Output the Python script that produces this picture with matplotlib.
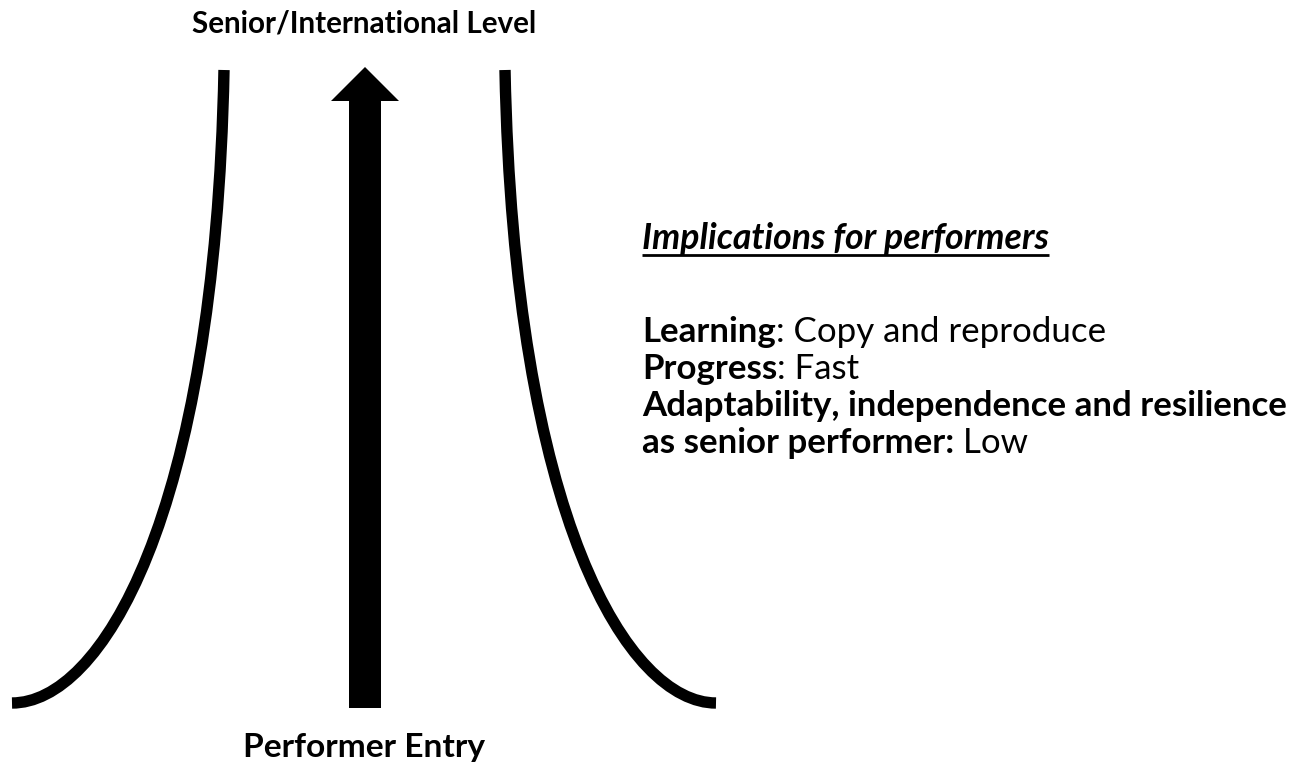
#!/usr/bin/env python3
"""Performer pathway diagram: narrow funnel with a straight arrow up the middle."""

import matplotlib
matplotlib.use("Agg")
import matplotlib.pyplot as plt
from matplotlib.path import Path
from matplotlib.patches import PathPatch, FancyArrow

FONT = ["Lato", "DejaVu Sans"]

# bezier control points of the two funnel walls (pixel space, y down)
LEFT_X = [224, 215, 100, 12]
LEFT_Y = [70, 520, 703, 703]
RIGHT_X = [505, 514, 629, 716]
RIGHT_Y = [70, 520, 703, 703]

# central arrow: x, bottom, top
ARROW_X = 365
ARROW_BOTTOM = 708
ARROW_TOP = 67

TOP_LABEL = "Senior/International Level"
BOTTOM_LABEL = "Performer Entry"
HEADING = "Implications for performers"
LINES = [
    ("Learning", ": Copy and reproduce"),
    ("Progress", ": Fast"),
    ("Adaptability, independence and resilience", ""),
    ("as senior performer:", " Low"),
]


def fit_width(fig, txt, target_px):
    renderer = fig.canvas.get_renderer()
    for _ in range(4):
        w = txt.get_window_extent(renderer).width
        txt.set_fontsize(txt.get_fontsize() * target_px / w)


def main():
    fig = plt.figure(figsize=(13.06, 7.68), dpi=100)
    ax = fig.add_axes([0, 0, 1, 1])
    ax.set_xlim(0, 1306)
    ax.set_ylim(768, 0)
    ax.axis("off")

    codes = [Path.MOVETO, Path.CURVE4, Path.CURVE4, Path.CURVE4]
    for xs, ys in ((LEFT_X, LEFT_Y), (RIGHT_X, RIGHT_Y)):
        path = Path(list(zip(xs, ys)), codes)
        ax.add_patch(PathPatch(path, facecolor="none", edgecolor="black",
                               lw=8.2, capstyle="butt"))

    ax.add_patch(FancyArrow(ARROW_X, ARROW_BOTTOM, 0, ARROW_TOP - ARROW_BOTTOM,
                            width=32, head_width=68, head_length=34,
                            length_includes_head=True, color="black", lw=0))

    top = ax.text(364, 24, TOP_LABEL, ha="center", va="center",
                  fontweight="bold", family=FONT, fontsize=18)
    fit_width(fig, top, 345)
    bot = ax.text(364, 748, BOTTOM_LABEL, ha="center", va="center",
                  fontweight="bold", family=FONT, fontsize=18)
    fit_width(fig, bot, 242)

    renderer = fig.canvas.get_renderer()
    inv = ax.transData.inverted()

    head = ax.text(642, 249, HEADING, ha="left", va="baseline",
                   fontweight="bold", style="italic", family=FONT, fontsize=22)
    fit_width(fig, head, 406)
    bb = head.get_window_extent(renderer)
    (x0, _), (x1, _) = inv.transform([(bb.x0, 0), (bb.x1, 0)])
    ax.plot([x0, x1], [255, 255], color="black", lw=2.0, solid_capstyle="butt")

    # size the body so the longest line spans the measured width
    probe = ax.text(642, 0, LINES[2][0], fontweight="bold", family=FONT, fontsize=22)
    fit_width(fig, probe, 645)
    size = probe.get_fontsize()
    probe.remove()

    baselines = [342, 379, 416, 453]
    for (bold, rest), yb in zip(LINES, baselines):
        t = ax.text(642, yb, bold, ha="left", va="baseline",
                    fontweight="bold", family=FONT, fontsize=size)
        if rest:
            bb = t.get_window_extent(renderer)
            xr = inv.transform((bb.x1, 0))[0]
            ax.text(xr, yb, rest, ha="left", va="baseline",
                    family=FONT, fontsize=size)

    fig.savefig("out.png", dpi=100, facecolor="white")
    plt.close(fig)


if __name__ == "__main__":
    main()
